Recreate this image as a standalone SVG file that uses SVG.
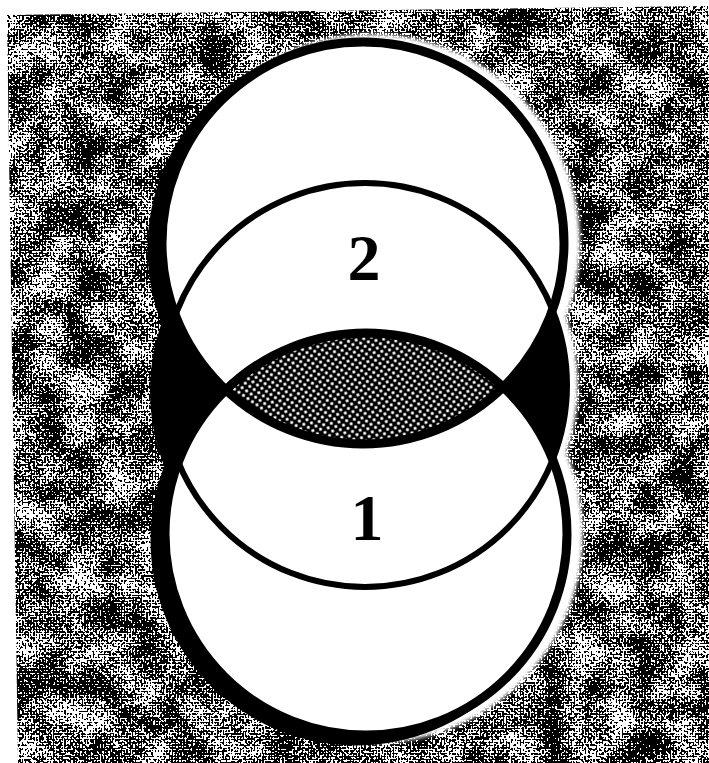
<svg xmlns="http://www.w3.org/2000/svg" width="709" height="763" viewBox="0 0 709 763">
<defs>
<style>
.ring{fill:none;stroke:#000;stroke-width:9}
.thin{fill:none;stroke:#000;stroke-width:6}
.lbl{font-family:"Liberation Serif","Times New Roman",serif;font-weight:bold;font-size:66px;fill:#000;text-anchor:middle}
</style>
<pattern id="checker" width="4" height="4" patternUnits="userSpaceOnUse" patternTransform="rotate(45)">
<rect width="4" height="4" fill="#fff"/>
<rect width="2" height="2" fill="#000"/>
<rect x="2" y="2" width="2" height="2" fill="#000"/>
</pattern>
<filter id="grain" filterUnits="userSpaceOnUse" x="0" y="0" width="709" height="763" color-interpolation-filters="sRGB">
<feTurbulence type="fractalNoise" baseFrequency="0.45" numOctaves="1" seed="7" result="f"/>
<feColorMatrix in="f" type="matrix" values="1 0 0 0 0 1 0 0 0 0 1 0 0 0 0 0 0 0 0 1" result="f1"/>
<feTurbulence type="fractalNoise" baseFrequency="0.03" numOctaves="4" seed="11" result="c"/>
<feColorMatrix in="c" type="matrix" values="1 0 0 0 0 1 0 0 0 0 1 0 0 0 0 0 0 0 0 1" result="c1"/>
<feComposite in="f1" in2="c1" operator="arithmetic" k1="0" k2="1.6" k3="0.8" k4="-0.7" result="n"/>
<feComposite in="SourceGraphic" in2="n" operator="arithmetic" k1="0" k2="0.35" k3="1" k4="-0.23" result="s"/>
<feComponentTransfer in="s">
<feFuncR type="discrete" tableValues="0 1"/>
<feFuncG type="discrete" tableValues="0 1"/>
<feFuncB type="discrete" tableValues="0 1"/>
</feComponentTransfer>
</filter>
<filter id="soft" x="-10%" y="-10%" width="120%" height="120%">
<feGaussianBlur stdDeviation="2"/>
</filter>
<clipPath id="frame"><polygon points="7,15 709,6 709,763 18,763"/></clipPath>
<clipPath id="topClip"><circle cx="363" cy="243" r="201"/></clipPath>
<pattern id="dots" width="5.5" height="5.5" patternUnits="userSpaceOnUse" patternTransform="rotate(35)">
<rect width="5.5" height="5.5" fill="#000"/>
<circle cx="2.75" cy="2.75" r="1.6" fill="#fff"/>
</pattern>
</defs>
<rect width="709" height="763" fill="#fff"/>
<g id="background" clip-path="url(#frame)">
<rect x="0" y="0" width="709" height="763" fill="url(#checker)" filter="url(#grain)"/>
</g>
<g id="halo" fill="#fff" filter="url(#soft)" transform="translate(8,0)">
<circle cx="363" cy="243" r="209"/>
<circle cx="365" cy="385" r="205"/>
<circle cx="366" cy="534" r="209"/>
</g>
<g id="shadow" fill="#000" transform="translate(-10,6)">
<circle cx="363" cy="243" r="205.5"/>
<circle cx="365" cy="385" r="205"/>
<circle cx="366" cy="534" r="205.5"/>
</g>
<g id="middle-disk">
<circle cx="365" cy="385" r="202" fill="#000"/>
</g>
<g id="sphere-2">
<circle cx="363" cy="243" r="201" fill="#fff"/>
</g>
<g id="sphere-1">
<circle cx="366" cy="534" r="201" fill="#fff"/>
</g>
<g id="overlap">
<circle cx="366" cy="534" r="201" fill="url(#dots)" clip-path="url(#topClip)"/>
</g>
<g id="outlines">
<circle class="thin" cx="365" cy="385" r="202"/>
<circle class="ring" cx="363" cy="243" r="201"/>
<circle class="ring" cx="366" cy="534" r="201"/>
</g>
<g id="labels">
<text class="lbl" x="364" y="280">2</text>
<text class="lbl" x="367" y="540">1</text>
</g>
</svg>
